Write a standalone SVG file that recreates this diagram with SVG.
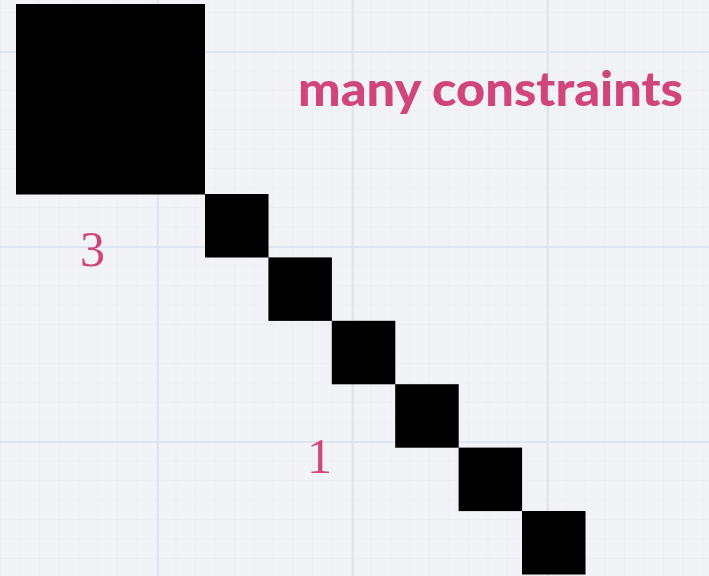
<svg xmlns="http://www.w3.org/2000/svg" width="709" height="576" viewBox="0 0 709 576">
<defs>
<pattern id="minor" x="0" y="12" width="19.5" height="19.5" patternUnits="userSpaceOnUse">
<path d="M0 0H19.5M0 0V19.5" fill="none" stroke="#e7eaf0" stroke-width="1"/>
</pattern>
<style>
.blk{fill:#000}
.lbl{fill:#d0457a;font-family:"Liberation Serif",serif;font-size:50px}
.title{fill:#d0457a;font-family:Lato,"Noto Sans",sans-serif;font-weight:900;font-size:48px}
.major{stroke:#dfe5ee;stroke-width:2}
</style>
</defs>
<rect width="709" height="576" fill="#f2f3f6"/>
<rect width="709" height="576" fill="url(#minor)"/>
<g class="major">
<line x1="158" y1="0" x2="158" y2="576"/>
<line x1="353" y1="0" x2="353" y2="576"/>
<line x1="548" y1="0" x2="548" y2="576"/>
<line x1="0" y1="52" x2="709" y2="52"/>
<line x1="0" y1="247" x2="709" y2="247"/>
<line x1="0" y1="442" x2="709" y2="442"/>
</g>
<g id="big"><rect class="blk" x="16" y="4" width="189" height="190.5"/></g>
<g id="s1"><rect class="blk" x="205" y="194" width="63.5" height="63.5"/></g>
<g id="s2"><rect class="blk" x="268.4" y="257.4" width="63.5" height="63.5"/></g>
<g id="s3"><rect class="blk" x="331.8" y="320.8" width="63.5" height="63.5"/></g>
<g id="s4"><rect class="blk" x="395.2" y="384.2" width="63.5" height="63.5"/></g>
<g id="s5"><rect class="blk" x="458.6" y="447.6" width="63.5" height="63.5"/></g>
<g id="s6"><rect class="blk" x="522" y="511" width="63.5" height="63.5"/></g>
<g id="connectors"/>
<text class="title" x="298" y="106" textLength="385" lengthAdjust="spacingAndGlyphs">many constraints</text>
<text class="lbl" x="80" y="266">3</text>
<text class="lbl" x="307" y="473">1</text>
</svg>
